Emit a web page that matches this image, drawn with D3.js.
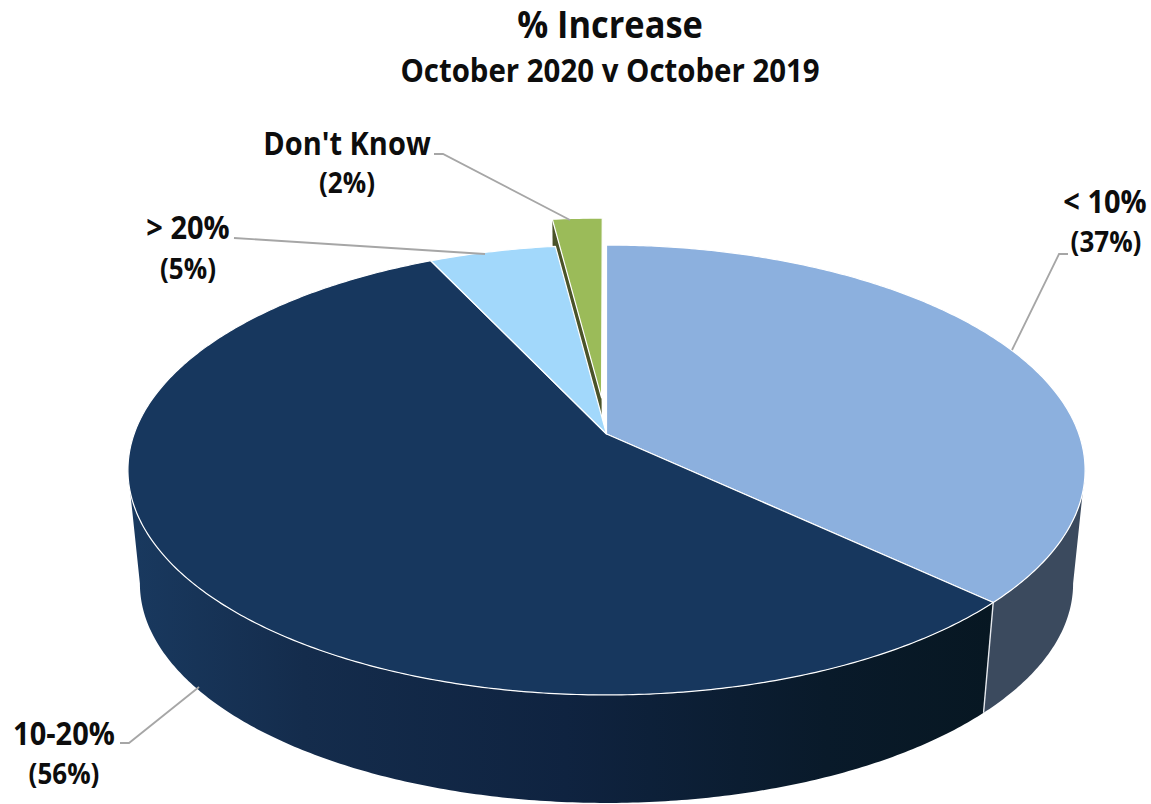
<!DOCTYPE html>
<html>
<head>
<meta charset="utf-8">
<script src="https://cdn.jsdelivr.net/npm/d3@7"></script>
<style>
  html, body { margin: 0; background: #fff; }
  svg { display: block; }
  text { font-family: "Open Sans", sans-serif; font-weight: 700; fill: #0d0d0d; text-anchor: middle; }
</style>
</head>
<body>
<svg id="chart" width="1151" height="804"></svg>
<script>
// Survey shares for the exploded 3D pie
const categories = ["< 10%", "10-20%", "> 20%", "Don't Know"];
const shares = [37, 56, 5, 2];
const shareLabels = ["(37%)", "(56%)", "(5%)", "(2%)"];
const topColours = ["#8CB0DE", "#17375E", "#A2D8FB", "#9BBB59"];
const titleText = "% Increase";
const subtitleText = "October 2020 v October 2019";

const svg = d3.select("#chart");

// Perspective model: a disc seen from above, nearer edge drawn larger
const tilt = 0.16;
const cx = 606.5, cy = 434;
const planeX = d3.scaleLinear().domain([-1, 1]).range([-472.4, 472.4]);
const planeY = d3.scaleLinear().domain([-1, 1]).range([-219.2, 219.2]);
const bottomScale = 0.975, bottomDrop = 114.5;

function project(u, w, lower) {
  const d = 1 - tilt * w;
  const s = lower ? bottomScale : 1;
  return [cx + s * planeX(u / d), cy + (lower ? bottomDrop : 0) + s * planeY(w / d)];
}
const rimPoint = (a, off, lower) =>
  project(Math.sin(a) + off[0], -Math.cos(a) + off[1], lower);

function arcPoints(a0, a1, off, lower) {
  const n = Math.max(2, Math.ceil(Math.abs(a1 - a0) / 0.01));
  return d3.range(n + 1).map(i => rimPoint(a0 + (a1 - a0) * i / n, off, lower));
}

const line = d3.line().curve(d3.curveLinear);
const closed = pts => line(pts) + "Z";

const slices = d3.pie().sort(null).value(d => d)(shares);
const noOffset = [0, 0];

// Rim angles where the disc outline is at its widest; the wall starts there
const sideRight = Math.acos(-tilt);
const sideLeft = 2 * Math.PI - sideRight;

// Exploded slice sits behind the main disc, so it is painted first
const last = slices[3];
const mid = (last.startAngle + last.endAngle) / 2;
const pull = 0.17;
const lift = [pull * Math.sin(mid), -pull * Math.cos(mid)];
const apexTop = project(lift[0], lift[1], false);
const apexLow = project(lift[0], lift[1], true);

svg.append("path")
  .attr("d", closed([apexTop, rimPoint(last.startAngle, lift, false),
                     rimPoint(last.startAngle, lift, true), apexLow]))
  .attr("fill", "#4A5329");
svg.append("path")
  .attr("d", closed([apexTop, ...arcPoints(last.startAngle, last.endAngle, lift, false)]))
  .attr("fill", topColours[3])
  .attr("stroke", "#fff").attr("stroke-width", 1.2).attr("stroke-linejoin", "round");

// Shaded rim of the large slice runs dark towards the right
const defs = svg.append("defs");
const rimShade = defs.append("linearGradient").attr("id", "rimShade")
  .attr("gradientUnits", "userSpaceOnUse")
  .attr("x1", 130).attr("x2", 1000).attr("y1", 0).attr("y2", 0);
[[0, "#19395F"], [0.2, "#142C4C"], [0.5, "#0F2340"], [0.8, "#091A2A"], [1, "#071722"]]
  .forEach(([o, c]) => rimShade.append("stop").attr("offset", o).attr("stop-color", c));

// Outer walls of the two front-facing slices
function wall(a0, a1, fill) {
  const pts = [...arcPoints(a0, a1, noOffset, false),
               ...arcPoints(a1, a0, noOffset, true)];
  svg.append("path").attr("d", closed(pts)).attr("fill", fill);
}
wall(sideRight, slices[0].endAngle, "#3B4A5E");
wall(slices[1].startAngle, sideLeft, "url(#rimShade)");

// Seam between the two walls
svg.append("path")
  .attr("d", line([rimPoint(slices[0].endAngle, noOffset, false),
                   rimPoint(slices[0].endAngle, noOffset, true)]))
  .attr("stroke", "#E6E9EE").attr("stroke-width", 1.4).attr("fill", "none");

// Top faces of the three slices still in the disc
slices.slice(0, 3).forEach((s, i) => {
  svg.append("path")
    .attr("d", closed([project(0, 0, false), ...arcPoints(s.startAngle, s.endAngle, noOffset, false)]))
    .attr("fill", topColours[i])
    .attr("stroke", "#fff").attr("stroke-width", 1.2).attr("stroke-linejoin", "round");
});

// Leader lines
const leaders = [
  [[1012, 350], [1059, 254], [1068, 254]],
  [[199, 687], [129, 743], [120, 743]],
  [[485, 254], [234, 238]],
  [[570, 220], [443, 154], [434, 154]]
];
leaders.forEach(pts => svg.append("path").attr("d", line(pts))
  .attr("fill", "none").attr("stroke", "#A6A6A6").attr("stroke-width", 1.8));

// Taller, slightly narrowed lettering: keep the width of the given size
function condensed(sel, size) {
  sel.attr("font-size", size).each(function () {
    const wide = this.getComputedTextLength();
    d3.select(this).attr("font-size", size * 1.09)
      .attr("textLength", wide).attr("lengthAdjust", "spacingAndGlyphs");
  });
}

// Title block
condensed(svg.append("text").attr("x", 610).attr("y", 38).text(titleText), 34.4);
condensed(svg.append("text").attr("x", 610).attr("y", 82).text(subtitleText), 29.4);

// Category names with their percentages
const namePlaces = [[1105, 213], [64, 745], [188, 239], [347, 155]];
const sharePlaces = [[1106, 252], [64, 784], [188, 279], [347, 193]];
const nameSize = 29, shareSize = 26;
condensed(svg.selectAll("text.name").data(categories).join("text").attr("class", "name")
  .attr("x", (d, i) => namePlaces[i][0]).attr("y", (d, i) => namePlaces[i][1])
  .text(d => d), nameSize);
condensed(svg.selectAll("text.share").data(shareLabels).join("text").attr("class", "share")
  .attr("x", (d, i) => sharePlaces[i][0]).attr("y", (d, i) => sharePlaces[i][1])
  .text(d => d), shareSize);
</script>
</body>
</html>
